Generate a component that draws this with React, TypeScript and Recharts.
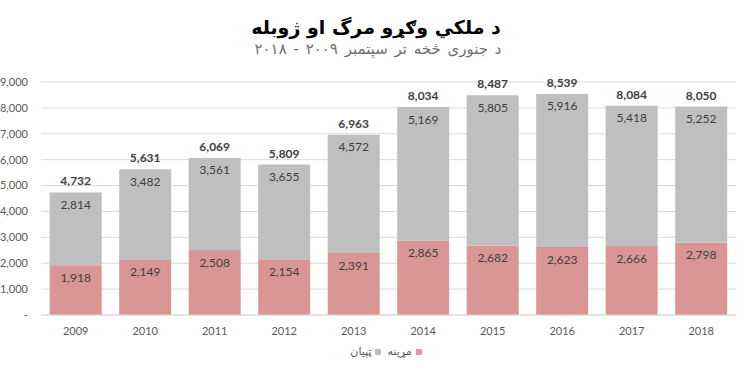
import React from 'react';
import { BarChart, Bar, XAxis, YAxis, CartesianGrid, LabelList } from 'recharts';

const years = ['2009', '2010', '2011', '2012', '2013', '2014', '2015', '2016', '2017', '2018'];
const deaths = [1918, 2149, 2508, 2154, 2391, 2865, 2682, 2623, 2666, 2798];
const injured = [2814, 3482, 3561, 3655, 4572, 5169, 5805, 5916, 5418, 5252];
const totals = [4732, 5631, 6069, 5809, 6963, 8034, 8487, 8539, 8084, 8050];
const yTicks = [0, 1000, 2000, 3000, 4000, 5000, 6000, 7000, 8000, 9000];

const title = 'د ملكي وګړو مرگ او ژوبله';
const subtitle = 'د جنوری څخه تر سپتمبر ۲۰۰۹ - ۲۰۱۸';
const deathsName = 'مړینه';
const injuredName = 'ټپیان';

const RED = '#d99694';
const GRAY = '#bfbfbf';
const FONT = 'Lato, "Open Sans", sans-serif';
const AR_FONT = '"DejaVu Sans", sans-serif';

const data = years.map((y, i) => ({
  year: y,
  deaths: deaths[i],
  injured: injured[i],
  total: totals[i],
}));

const fmt = (v: number) => v.toLocaleString('en-US');

export default function App() {
  return (
    <div style={{ position: 'absolute', left: 0, top: 0, width: 750, height: 375, background: '#fff' }}>
      <div
        style={{
          position: 'absolute', left: 0, width: 752, top: 14, textAlign: 'center',
          fontFamily: AR_FONT, fontWeight: 'bold', fontSize: 19, lineHeight: '26px', color: '#000', direction: 'rtl',
        }}
      >
        {title}
      </div>
      <div
        style={{
          position: 'absolute', left: 0, width: 756, top: 40, textAlign: 'center', wordSpacing: 2,
          fontFamily: AR_FONT, fontSize: 15, lineHeight: '18px', color: '#6e6e6e', direction: 'rtl',
        }}
      >
        {subtitle}
      </div>
      <BarChart
        width={750}
        height={375}
        data={data}
        margin={{ top: 82, right: 14, left: 0, bottom: 30 }}
        barCategoryGap="12.5%"
      >
        <CartesianGrid vertical={false} stroke="#d9d9d9" />
        <XAxis
          dataKey="year"
          axisLine={{ stroke: '#d9d9d9' }}
          tickLine={false}
          tickSize={0}
          tickMargin={12}
          height={30}
          tick={{ fill: '#595959', fontSize: 11, fontFamily: FONT }}
        />
        <YAxis
          domain={[0, 9000]}
          ticks={yTicks}
          interval={0}
          tickFormatter={(v: number) => (v === 0 ? '-' : fmt(v))}
          axisLine={false}
          tickLine={false}
          tickSize={0}
          tickMargin={13}
          width={41}
          tick={{ fill: '#595959', fontSize: 11, fontFamily: FONT }}
        />
        <Bar dataKey="deaths" stackId="a" fill={RED} isAnimationActive={false}>
          <LabelList
            dataKey="deaths"
            position="insideTop"
            offset={8}
            formatter={(v: number) => fmt(v)}
            style={{ fill: '#404040', fontSize: 12, fontFamily: FONT }}
          />
        </Bar>
        <Bar dataKey="injured" stackId="a" fill={GRAY} isAnimationActive={false}>
          <LabelList
            dataKey="injured"
            position="insideTop"
            offset={8}
            formatter={(v: number) => fmt(v)}
            style={{ fill: '#404040', fontSize: 12, fontFamily: FONT }}
          />
          <LabelList
            dataKey="total"
            position="top"
            offset={7}
            formatter={(v: number) => fmt(v)}
            style={{ fill: '#404040', fontSize: 12, fontWeight: 'bold', fontFamily: FONT }}
          />
        </Bar>
      </BarChart>
      <div
        style={{
          position: 'absolute', left: 0, width: 772, top: 345, display: 'flex', justifyContent: 'center',
          direction: 'rtl', fontFamily: AR_FONT, fontSize: 11, color: '#595959', lineHeight: '14px',
        }}
      >
        <span style={{ display: 'inline-flex', alignItems: 'center', marginLeft: 6 }}>
          <span style={{ width: 6, height: 6, background: RED, display: 'inline-block', marginLeft: 4 }} />
          {deathsName}
        </span>
        <span style={{ display: 'inline-flex', alignItems: 'center' }}>
          <span style={{ width: 6, height: 6, background: GRAY, display: 'inline-block', marginLeft: 4 }} />
          {injuredName}
        </span>
      </div>
    </div>
  );
}
